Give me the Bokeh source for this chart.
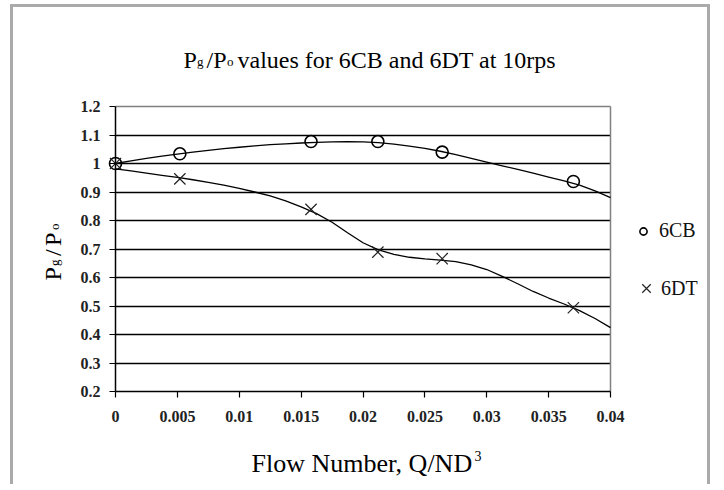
import numpy as np
from bokeh.plotting import figure
from bokeh.models import (Label, Legend, LegendItem, FixedTicker, Grid,
                          CustomJSTickFormatter, Range1d)
from bokeh.embed import file_html
from bokeh.resources import INLINE

# ---- data ----
flow = [0.0, 0.0052, 0.0158, 0.0212, 0.0264, 0.0370]
ratio_cb = [1.0, 1.034, 1.077, 1.077, 1.040, 0.937]
ratio_dt = [1.0, 0.946, 0.839, 0.689, 0.666, 0.494]
# trendlines as drawn in the chart, read at regular flow numbers
trend_x = [0.0, 0.00125, 0.0025, 0.00375, 0.005, 0.00625, 0.0075, 0.00875,
           0.01, 0.01125, 0.0125, 0.01375, 0.015, 0.01625, 0.0175, 0.01875,
           0.02, 0.02125, 0.0225, 0.02375, 0.025, 0.02625, 0.0275, 0.02875,
           0.03, 0.03125, 0.0325, 0.03375, 0.035, 0.03625, 0.0375, 0.03875, 0.04]
trend_cb = [1.000, 1.009, 1.018, 1.026, 1.033, 1.040, 1.046, 1.052,
            1.057, 1.062, 1.066, 1.069, 1.072, 1.074, 1.076, 1.077,
            1.076, 1.073, 1.068, 1.061, 1.053, 1.043, 1.031, 1.018,
            1.005, 0.992, 0.979, 0.966, 0.952, 0.939, 0.924, 0.904, 0.880]
trend_dt = [0.981, 0.974, 0.966, 0.958, 0.951, 0.943, 0.934, 0.924,
            0.913, 0.900, 0.886, 0.869, 0.848, 0.824, 0.794, 0.757,
            0.722, 0.697, 0.681, 0.671, 0.665, 0.661, 0.656, 0.644,
            0.628, 0.604, 0.578, 0.551, 0.528, 0.507, 0.484, 0.456, 0.424]
x_ticks = [0, 0.005, 0.01, 0.015, 0.02, 0.025, 0.03, 0.035, 0.04]
y_ticks = [0.2, 0.3, 0.4, 0.5, 0.6, 0.7, 0.8, 0.9, 1, 1.1, 1.2]
grid_ticks = [0.3, 0.4, 0.5, 0.6, 0.7, 0.8, 0.9, 1, 1.1]
x_lim = (0, 0.04)
y_lim = (0.2, 1.2)
series_names = ["6CB", "6DT"]
title_parts = ["P", "g", "/P", "o", "values for 6CB and 6DT at 10rps"]
ylabel_parts = ["P", "g", "/", "P", "o"]
xlabel_parts = ["Flow Number, Q/ND", "3"]

FONT = "Liberation Serif"

# ---- layout (page pixels) ----
CANVAS_X0, CANVAS_Y0, CANVAS_W, CANVAS_H = 13, 7, 700, 480
FL, FR, FT, FB = 115.0, 610.0, 106.0, 391.0   # chart box in page pixels
xs_per_px = (x_lim[1] - x_lim[0]) / (FR - FL)
ys_per_px = (y_lim[1] - y_lim[0]) / (FB - FT)

def dx(px):
    return x_lim[0] + (px - FL) * xs_per_px

def dy(py):
    return y_lim[1] - (py - FT) * ys_per_px

p = figure(width=CANVAS_W, height=CANVAS_H,
           x_range=Range1d(dx(CANVAS_X0), dx(CANVAS_X0 + CANVAS_W)),
           y_range=Range1d(dy(CANVAS_Y0 + CANVAS_H), dy(CANVAS_Y0)),
           output_backend="svg", toolbar_location=None,
           min_border=0, min_border_left=0, min_border_right=0,
           min_border_top=0, min_border_bottom=0)
p.styles = {"margin-left": "10px", "margin-top": "4px",
            "border-left": "3px solid #aaaaaa", "border-top": "3px solid #aaaaaa",
            "border-right": "3px solid #aaaaaa"}
p.background_fill_color = "white"
p.border_fill_color = "white"
p.outline_line_color = None

# grid lines confined to the chart box
p.xgrid.visible = False
p.ygrid.ticker = FixedTicker(ticks=grid_ticks)
p.ygrid.bounds = y_lim
p.ygrid.cross_bounds = x_lim
p.ygrid.grid_line_color = "black"
p.ygrid.grid_line_width = 1.5
top_edge = Grid(dimension=1, ticker=FixedTicker(ticks=[y_lim[1]]), bounds=y_lim,
                cross_bounds=x_lim, grid_line_color="#808080", grid_line_width=1.5)
right_edge = Grid(dimension=0, ticker=FixedTicker(ticks=[x_lim[1]]), bounds=x_lim,
                  cross_bounds=y_lim, grid_line_color="#808080", grid_line_width=1.5)
p.add_layout(top_edge)
p.add_layout(right_edge)

fmt = CustomJSTickFormatter(code="return tick.toString();")
xa, ya = p.xaxis[0], p.yaxis[0]
xa.fixed_location = y_lim[0]
xa.bounds = x_lim
ya.fixed_location = x_lim[0]
ya.bounds = y_lim
for ax, ticks, standoff in ((xa, x_ticks, 13), (ya, y_ticks, 9)):
    ax.ticker = FixedTicker(ticks=ticks)
    ax.formatter = fmt
    ax.major_tick_in = 0
    ax.major_tick_out = 6
    ax.minor_tick_line_color = None
    ax.axis_line_color = "black"
    ax.axis_line_width = 1.5
    ax.major_tick_line_color = "black"
    ax.major_tick_line_width = 1.2
    ax.major_label_text_font = FONT
    ax.major_label_text_font_size = "16px"
    ax.major_label_text_font_style = "bold"
    ax.major_label_text_color = "#222222"
    ax.major_label_standoff = standoff

# trendlines
p.line(trend_x, trend_cb, line_color="black", line_width=1.3, line_join="round")
p.line(trend_x, trend_dt, line_color="black", line_width=1.3, line_join="round")

# markers
r_cb = p.scatter(flow, ratio_cb, marker="circle", size=12, line_color="black",
                 line_width=1.6, fill_color=None)
r_dt = p.scatter(flow, ratio_dt, marker="x", size=16, line_color="#222222",
                 line_width=1.2)

# legend: one Legend per item so each glyph gets its own size
for renderer, name, gsize, standoff, (left_px, bottom_px) in (
        (r_cb, series_names[0], 18, 7, (634, 242)),
        (r_dt, series_names[1], 30, 0, (631, 303))):
    lg = Legend(items=[LegendItem(label=name, renderers=[renderer])],
                location=(left_px - CANVAS_X0, CANVAS_Y0 + CANVAS_H - bottom_px),
                glyph_width=gsize, glyph_height=gsize,
                label_height=gsize, label_standoff=standoff, padding=0, margin=0,
                spacing=0, border_line_color=None, background_fill_alpha=0,
                label_text_font=FONT, label_text_font_size="20px",
                label_text_color="#111111")
    p.add_layout(lg, "center")

def add_label(x, y, text, size, angle=0.0):
    p.add_layout(Label(x=x, y=y, text=text, text_font=FONT, text_font_size=size,
                       text_color="black", text_baseline="alphabetic",
                       text_align="left", angle=angle))

# title with subscripts
add_label(dx(183), dy(59), title_parts[0], "24px")
add_label(dx(196.5), dy(61), title_parts[1], "13px")
add_label(dx(206), dy(59), title_parts[2], "24px")
add_label(dx(226.5), dy(61), title_parts[3], "13px")
add_label(dx(237), dy(59), title_parts[4], "24px")

# y-axis label (rotated) with subscripts
a = np.pi / 2
add_label(dx(52), dy(280), ylabel_parts[0], "24px", a)
add_label(dx(54), dy(265.5), ylabel_parts[1], "13px", a)
add_label(dx(52), dy(255.5), ylabel_parts[2], "24px", a)
add_label(dx(52), dy(245.5), ylabel_parts[3], "24px", a)
add_label(dx(54), dy(229.5), ylabel_parts[4], "13px", a)

# x-axis label with superscript
add_label(dx(251), dy(463), xlabel_parts[0], "26px")
add_label(dx(474), dy(455), xlabel_parts[1], "14px")

open("out.html", "w").write(file_html(p, INLINE))
